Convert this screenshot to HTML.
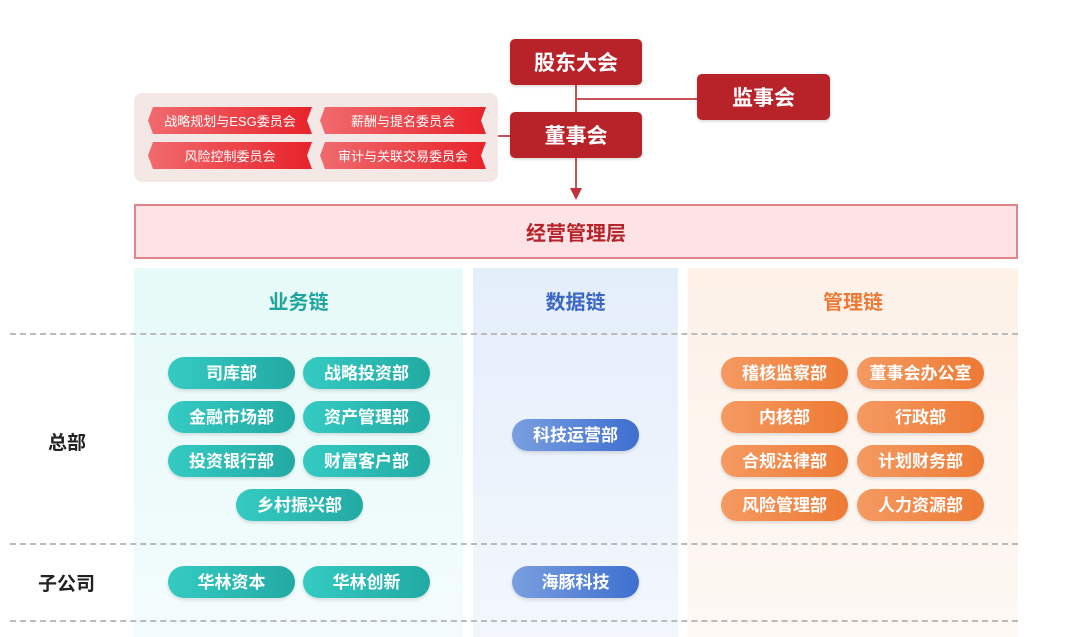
<!DOCTYPE html>
<html><head><meta charset="utf-8"><style>
*{margin:0;padding:0;box-sizing:border-box}
body{width:1080px;height:637px;background:#fff;position:relative;overflow:hidden;font-family:"Liberation Sans","Noto Sans CJK SC",sans-serif}
.a{position:absolute}
.red{background:#b8232a;color:#fff;font-weight:bold;font-size:21px;border-radius:5px;display:flex;align-items:center;justify-content:center;box-shadow:0 1px 3px rgba(0,0,0,.2)}
.cm{position:absolute;height:27px;color:#fff;font-size:13px;display:flex;align-items:center;justify-content:center;background:linear-gradient(90deg,#f06b6e,#e8222a);clip-path:polygon(5px 0,100% 0,calc(100% - 5px) 50%,100% 100%,5px 100%,0 50%)}
.pill{position:absolute;width:127px;height:32px;border-radius:16px;color:#fff;font-size:17px;font-weight:bold;display:flex;align-items:center;justify-content:center;line-height:1;box-shadow:0 2px 3px rgba(0,0,0,.12)}
.g{background:linear-gradient(90deg,#34cbc3,#22aaa3)}
.b{background:linear-gradient(90deg,#7a9fe0,#3d6fd0)}
.o{background:linear-gradient(90deg,#f59a62,#ee7a34)}
.dash{position:absolute;left:10px;width:1008px;border-top:2px dashed #bbb}
.hd{position:absolute;font-size:20px;font-weight:bold;top:286px;text-align:center}
.lbl{position:absolute;font-size:19px;font-weight:bold;color:#222}
</style></head><body>
<div class="a" style="left:134px;top:268px;width:329px;height:369px;background:linear-gradient(180deg,#e6faf8,#f3fcfc)"></div>
<div class="a" style="left:473px;top:268px;width:205px;height:369px;background:linear-gradient(180deg,#e4eefb,#f3f7fd)"></div>
<div class="a" style="left:688px;top:268px;width:330px;height:369px;background:linear-gradient(180deg,#fdf1e8,#fdf8f4)"></div>

<div class="a" style="left:134px;top:93px;width:364px;height:89px;background:#f4e8e7;border-radius:8px"></div>
<div class="cm" style="left:148px;top:107px;width:164px">战略规划与ESG委员会</div>
<div class="cm" style="left:320px;top:107px;width:166px">薪酬与提名委员会</div>
<div class="cm" style="left:148px;top:142px;width:164px">风险控制委员会</div>
<div class="cm" style="left:320px;top:142px;width:166px">审计与关联交易委员会</div>

<div class="a" style="left:575px;top:85px;width:2px;height:105px;background:#c65358"></div>
<div class="a" style="left:576px;top:98px;width:122px;height:2px;background:#c65358"></div>
<div class="a" style="left:498px;top:135px;width:12px;height:2px;background:#c65358"></div>
<div class="a" style="left:570px;top:188px;width:0;height:0;border-left:6px solid transparent;border-right:6px solid transparent;border-top:12px solid #c0333a"></div>

<div class="red a" style="left:510px;top:39px;width:132px;height:46px">股东大会</div>
<div class="red a" style="left:697px;top:74px;width:133px;height:46px">监事会</div>
<div class="red a" style="left:510px;top:112px;width:132px;height:46px">董事会</div>

<div class="a" style="left:134px;top:204px;width:884px;height:55px;background:#fde3e5;border:2px solid #e0868a;display:flex;align-items:center;justify-content:center;font-size:20px;font-weight:bold;color:#b8232a">经营管理层</div>

<div class="hd" style="left:134px;width:329px;color:#1fa59d">业务链</div>
<div class="hd" style="left:473px;width:205px;color:#3a66c4">数据链</div>
<div class="hd" style="left:688px;width:330px;color:#ec7a35">管理链</div>

<div class="dash" style="top:333px"></div>
<div class="dash" style="top:543px"></div>
<div class="dash" style="top:620px"></div>

<div class="lbl" style="left:48px;top:428px">总部</div>
<div class="lbl" style="left:38px;top:569px">子公司</div>

<div class="pill g" style="left:168px;top:357px">司库部</div>
<div class="pill g" style="left:303px;top:357px">战略投资部</div>
<div class="pill g" style="left:168px;top:401px">金融市场部</div>
<div class="pill g" style="left:303px;top:401px">资产管理部</div>
<div class="pill g" style="left:168px;top:445px">投资银行部</div>
<div class="pill g" style="left:303px;top:445px">财富客户部</div>
<div class="pill g" style="left:236px;top:489px">乡村振兴部</div>
<div class="pill g" style="left:168px;top:566px">华林资本</div>
<div class="pill g" style="left:303px;top:566px">华林创新</div>

<div class="pill b" style="left:512px;top:419px">科技运营部</div>
<div class="pill b" style="left:512px;top:566px">海豚科技</div>

<div class="pill o" style="left:721px;top:357px">稽核监察部</div>
<div class="pill o" style="left:857px;top:357px">董事会办公室</div>
<div class="pill o" style="left:721px;top:401px">内核部</div>
<div class="pill o" style="left:857px;top:401px">行政部</div>
<div class="pill o" style="left:721px;top:445px">合规法律部</div>
<div class="pill o" style="left:857px;top:445px">计划财务部</div>
<div class="pill o" style="left:721px;top:489px">风险管理部</div>
<div class="pill o" style="left:857px;top:489px">人力资源部</div>
</body></html>
